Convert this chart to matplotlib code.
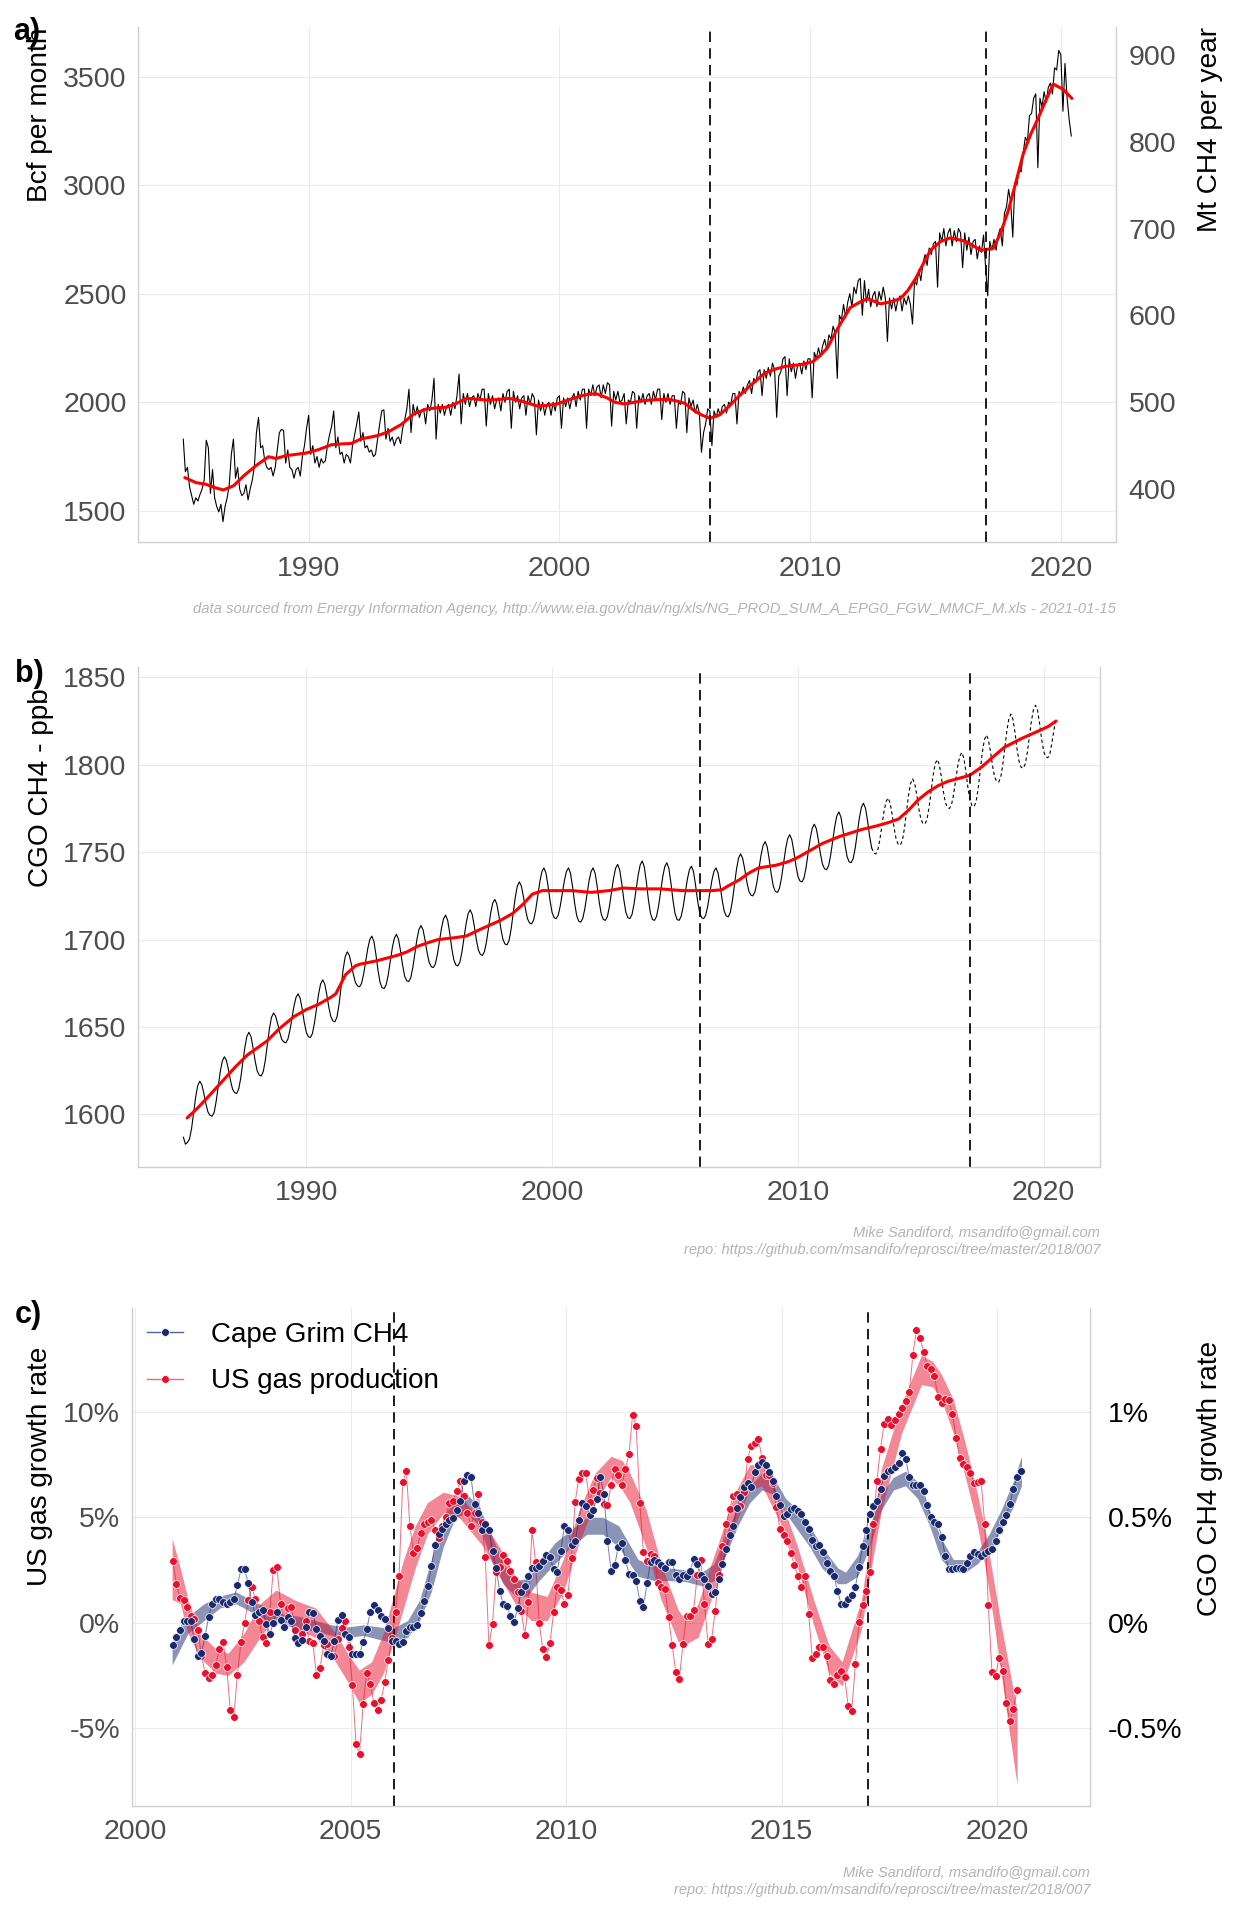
import numpy as np
import matplotlib
matplotlib.use("Agg")
import matplotlib.pyplot as plt
from matplotlib import font_manager as fm
from matplotlib.lines import Line2D

# ------------------------------------------------------------------ data
# a) US gas production, Bcf per month (Jan..Dec rows), from 1985-01
us_gas_1985_1989 = [
    1830, 1680, 1700, 1610, 1570, 1530, 1560, 1545, 1575, 1600, 1640, 1825,
    1790, 1580, 1690, 1560, 1520, 1495, 1530, 1450, 1520, 1560, 1620, 1760,
    1830, 1650, 1700, 1600, 1570, 1580, 1620, 1550, 1600, 1640, 1700, 1860,
    1930, 1790, 1800, 1730, 1700, 1690, 1700, 1660, 1700, 1780, 1860, 1875,
    1870, 1720, 1780, 1700, 1690, 1650, 1690, 1700, 1660, 1750, 1800, 1880,
]
us_gas_1990_1999 = [
    1940, 1760, 1800, 1720, 1750, 1700, 1740, 1720, 1730, 1800, 1850, 1890,
    1960, 1790, 1840, 1760, 1770, 1720, 1760, 1750, 1720, 1800, 1850, 1900,
    1955, 1820, 1860, 1790, 1800, 1770, 1780, 1750, 1760, 1830, 1900, 1960,
    1965, 1830, 1880, 1820, 1840, 1800, 1830, 1840, 1810, 1880, 1920, 1970,
    2060, 1860, 1990, 1940, 1980, 1930, 1960, 1970, 1900, 1990, 1960, 2010,
    2110, 1830, 1990, 1950, 1990, 1940, 1980, 1990, 1940, 2000, 1970, 2030,
    2130, 1900, 2040, 1990, 2040, 1980, 2020, 2030, 1980, 2040, 2010, 2060,
    2060, 1890, 2040, 1990, 2030, 1970, 2010, 2020, 1960, 2040, 2000, 2050,
    2060, 1880, 2050, 2000, 2030, 1970, 2020, 2030, 1940, 2030, 1990, 2040,
    2020, 1850, 2010, 1960, 2000, 1940, 1990, 2000, 1940, 2000, 1960, 2020,
]
us_gas_2000_2009 = [
    2030, 1880, 2020, 1980, 2020, 1970, 2020, 2040, 1980, 2050, 2010, 2060,
    2060, 1880, 2060, 2030, 2080, 2030, 2070, 2080, 2020, 2080, 2040, 2090,
    2080, 1890, 2050, 2010, 2050, 2000, 2010, 2040, 1900, 2010, 2000, 2050,
    2040, 1880, 2030, 2000, 2040, 1990, 2030, 2040, 1990, 2050, 2010, 2060,
    2060, 1920, 2040, 2000, 2040, 1990, 2030, 2030, 1880, 2000, 1990, 2050,
    2040, 1860, 2020, 1980, 2010, 1950, 1990, 1950, 1770, 1860, 1900, 1970,
    1960, 1800, 1960, 1930, 1970, 1940, 1980, 1990, 1950, 2000, 1990, 2040,
    2040, 1900, 2050, 2030, 2070, 2040, 2080, 2100, 2040, 2110, 2090, 2140,
    2150, 2030, 2150, 2110, 2160, 2120, 2180, 2150, 1930, 2120, 2140, 2200,
    2210, 2030, 2200, 2140, 2180, 2110, 2170, 2180, 2130, 2190, 2150, 2200,
]
us_gas_2010_2020 = [
    2200, 2020, 2230, 2200, 2250, 2210, 2260, 2290, 2240, 2310, 2290, 2350,
    2320, 2110, 2400, 2380, 2450, 2390, 2460, 2500, 2440, 2530, 2500, 2560,
    2570, 2400, 2560, 2460, 2520, 2440, 2490, 2510, 2440, 2510, 2470, 2530,
    2480, 2280, 2480, 2430, 2480, 2420, 2470, 2490, 2420, 2480, 2450, 2490,
    2450, 2360, 2560, 2540, 2610, 2560, 2640, 2680, 2630, 2710, 2680, 2730,
    2740, 2530, 2780, 2740, 2800, 2720, 2780, 2800, 2720, 2790, 2740, 2800,
    2780, 2620, 2780, 2700, 2760, 2680, 2740, 2750, 2660, 2720, 2690, 2770,
    2620, 2490, 2740, 2700, 2750, 2700, 2770, 2800, 2720, 2870, 2900, 2980,
    2920, 2760, 3010, 3000, 3080, 3060, 3150, 3220, 3200, 3320, 3330, 3400,
    3420, 3080, 3400, 3360, 3430, 3380, 3450, 3470, 3420, 3540, 3530, 3620,
    3600, 3340, 3560, 3400, 3300, 3226,
]
# a) smooth trend (red)
us_trend_year = [1985.06, 1985.5, 1985.9, 1986.3, 1986.6, 1987.0, 1987.4, 1987.9, 1988.4, 1988.7,
                 1989.1, 1989.5, 1989.9, 1990.4, 1990.9, 1991.3, 1991.7, 1992.1, 1992.5, 1992.8,
                 1993.2, 1993.7, 1994.2, 1994.7, 1995.1, 1995.5, 1995.9, 1996.3, 1996.7, 1997.1,
                 1997.5, 1998.0, 1998.5, 1999.1, 1999.5, 1999.9, 2000.5, 2000.9, 2001.2, 2001.5,
                 2001.9, 2002.2, 2002.6, 2003.0, 2003.4, 2003.9, 2004.4, 2004.7, 2005.0, 2005.4,
                 2005.7, 2006.0, 2006.4, 2006.8, 2007.2, 2007.7, 2008.2, 2008.6, 2009.0, 2009.6,
                 2010.1, 2010.4, 2010.7, 2011.1, 2011.6, 2012.0, 2012.3, 2012.8, 2013.2, 2013.6,
                 2013.9, 2014.2, 2014.5, 2014.8, 2015.2, 2015.6, 2016.2, 2016.8, 2017.3, 2017.6,
                 2017.9, 2018.2, 2018.5, 2018.8, 2019.1, 2019.4, 2019.7, 2020.1, 2020.44]
us_trend_bcf = [1653, 1630, 1622, 1605, 1596, 1615, 1660, 1708, 1749, 1741,
                1754, 1760, 1766, 1782, 1804, 1808, 1810, 1832, 1840, 1848,
                1865, 1898, 1947, 1969, 1974, 1977, 1995, 2018, 2014, 2010,
                2012, 2018, 2005, 1983, 1985, 1992, 2016, 2030, 2038, 2038,
                2020, 2000, 1992, 2000, 2008, 2012, 2012, 2005, 1995, 1959,
                1940, 1926, 1942, 1985, 2033, 2085, 2135, 2152, 2165, 2173,
                2186, 2215, 2252, 2340, 2436, 2462, 2477, 2453, 2462, 2477,
                2515, 2568, 2635, 2700, 2740, 2757, 2741, 2700, 2708, 2780,
                2881, 3010, 3144, 3235, 3309, 3390, 3465, 3440, 3399]

# b) Cape Grim CH4, ppb, monthly from 1985-01
cgo_1985_1989 = [
    1587, 1583, 1584, 1586, 1592, 1601, 1610, 1616.5, 1619, 1617, 1612, 1606,
    1601.4, 1599.5, 1599, 1601, 1607.5, 1616, 1624.5, 1630.5, 1633, 1631, 1625.6, 1619.4,
    1614.5, 1612.5, 1612, 1614.5, 1620.8, 1629.5, 1638.3, 1644.6, 1647, 1644.5, 1638.3, 1630.8,
    1625, 1622.5, 1622, 1624.5, 1631, 1640, 1649, 1655.5, 1658, 1656.3, 1652, 1647,
    1643, 1641.5, 1641, 1643, 1648, 1655, 1662, 1667, 1669, 1666.5, 1660.3, 1652.8,
]
cgo_1990_1999 = [
    1647, 1644.5, 1644, 1646.3, 1652.3, 1660.5, 1668.8, 1674.7, 1677, 1674.6, 1668.6, 1661.4,
    1655.9, 1653.5, 1653, 1655.8, 1663, 1673, 1683, 1690.2, 1693, 1691, 1686, 1680,
    1675.4, 1673.5, 1673, 1675, 1680.3, 1687.5, 1694.8, 1700, 1702, 1699, 1691.5, 1682.5,
    1675.6, 1672.5, 1672, 1674.2, 1679.8, 1687.5, 1695.3, 1700.8, 1703, 1700.3, 1693.6, 1685.5,
    1679.2, 1676.5, 1676, 1678.2, 1684, 1692, 1700, 1705.8, 1708, 1705.6, 1699.6, 1692.4,
    1686.9, 1684.5, 1684, 1686, 1691.5, 1699, 1706.5, 1711.9, 1714, 1711.1, 1703.9, 1695.2,
    1688.5, 1685.5, 1685, 1687.2, 1693, 1701, 1709, 1714.8, 1717, 1714.4, 1707.9, 1700.1,
    1694.1, 1691.5, 1691, 1693.2, 1699, 1707, 1715, 1720.8, 1723, 1720.4, 1713.9, 1706.1,
    1700.1, 1697.5, 1697, 1699.5, 1706, 1715, 1724, 1730.5, 1733, 1730.6, 1724.6, 1717.4,
    1711.9, 1709.5, 1709, 1711.2, 1717, 1725, 1733, 1738.8, 1741, 1738.1, 1730.9, 1722.2,
]
cgo_2000_2009 = [
    1715.5, 1712.5, 1712, 1714, 1719.3, 1726.5, 1733.8, 1739, 1741, 1737.9, 1730.2, 1720.9,
    1713.7, 1710.5, 1710, 1712.2, 1717.8, 1725.5, 1733.3, 1738.8, 1741, 1738, 1730.5, 1721.5,
    1714.6, 1711.5, 1711, 1713.2, 1719, 1727, 1735, 1740.8, 1743, 1739.9, 1732.2, 1722.9,
    1715.7, 1712.5, 1712, 1714.3, 1720.3, 1728.5, 1736.8, 1742.7, 1745, 1741.6, 1733.1, 1722.9,
    1715.1, 1711.5, 1711, 1713.3, 1719.3, 1727.5, 1735.8, 1741.7, 1744, 1740.7, 1732.5, 1722.6,
    1715, 1711.5, 1711, 1713.2, 1718.8, 1726.5, 1734.3, 1739.8, 1742, 1739, 1731.5, 1722.5,
    1715.6, 1712.5, 1712, 1714, 1719.3, 1726.5, 1733.8, 1739, 1741, 1738.2, 1731.2, 1722.8,
    1716.4, 1713.5, 1713, 1715.5, 1722, 1731, 1740, 1746.5, 1749, 1746.6, 1740.6, 1733.4,
    1727.9, 1725.5, 1725, 1727.2, 1732.8, 1740.5, 1748.3, 1753.8, 1756, 1753.1, 1745.9, 1737.2,
    1730.5, 1727.5, 1727, 1729.3, 1735.3, 1743.5, 1751.8, 1757.7, 1760, 1757.3, 1750.6, 1742.5,
]
cgo_2010_2020 = [
    1736.2, 1733.5, 1733, 1735.3, 1741.3, 1749.5, 1757.8, 1763.7, 1766, 1763.4, 1756.9, 1749.1,
    1743.1, 1740.5, 1740, 1742.3, 1748.3, 1756.5, 1764.8, 1770.7, 1773, 1770.1, 1762.9, 1754.2,
    1747.5, 1744.5, 1744, 1746.4, 1752.5, 1761, 1769.5, 1775.6, 1778, 1775.1, 1767.9, 1759.2,
    1752.5, 1749.5, 1749, 1751.2, 1757, 1765, 1773, 1778.8, 1781, 1778.3, 1771.6, 1763.5,
    1757.2, 1754.5, 1754, 1756.7, 1763.5, 1773, 1782.5, 1789.3, 1792, 1789.4, 1782.9, 1775.1,
    1769.1, 1766.5, 1766, 1768.6, 1775.3, 1784.5, 1793.8, 1800.4, 1803, 1800.2, 1793.2, 1784.8,
    1778.4, 1775.5, 1775, 1777.2, 1783, 1791, 1799, 1804.8, 1807, 1803.9, 1796.2, 1786.9,
    1779.7, 1776.5, 1776, 1778.9, 1786.3, 1796.5, 1806.8, 1814.1, 1817, 1814.3, 1807.6, 1799.5,
    1793.2, 1790.5, 1790, 1792.7, 1799.8, 1809.5, 1819.3, 1826.3, 1829, 1825.9, 1818.2, 1808.9,
    1801.7, 1798.5, 1798, 1800.5, 1807, 1816, 1825, 1831.5, 1834, 1831, 1823.5, 1814.5,
    1807.6, 1804.5, 1804, 1806.3, 1812.5, 1820, 1826,
]
cgo_trend_year = [1985.15, 1985.6, 1986.0, 1986.65, 1987.1, 1987.6, 1988.0, 1988.4, 1988.9, 1989.5,
                  1990.0, 1990.5, 1991.0, 1991.2, 1991.6, 1992.0, 1992.2, 1992.9, 1993.7, 1994.1,
                  1994.5, 1994.9, 1995.35, 1996.0, 1996.5, 1997.1, 1997.9, 1998.4, 1998.8, 1999.2,
                  1999.6, 1999.9, 2000.8, 2001.6, 2002.3, 2002.9, 2003.6, 2004.4, 2005.3, 2006.15,
                  2006.5, 2006.9, 2007.2, 2007.6, 2008.0, 2008.4, 2009.1, 2009.6, 2010.0, 2010.5,
                  2011.0, 2011.7, 2012.6, 2013.2, 2013.7, 2014.1, 2014.5, 2014.9, 2015.3, 2015.7,
                  2016.1, 2016.5, 2017.0, 2017.5, 2017.9, 2018.4, 2019.1, 2019.5, 2019.9, 2020.2,
                  2020.5]
cgo_trend_ppb = [1598, 1604, 1610, 1620, 1627, 1634, 1638, 1642, 1649, 1656,
                 1660, 1663, 1667, 1669, 1680, 1685, 1686, 1688, 1691, 1693,
                 1696, 1698, 1700, 1701, 1702, 1706, 1711, 1715, 1720, 1726,
                 1728, 1728, 1728, 1727, 1728, 1729.5, 1729, 1729, 1728, 1728,
                 1728, 1728.5, 1731, 1734, 1738, 1741, 1742.5, 1744.5, 1747, 1751,
                 1755, 1759, 1763, 1765, 1767, 1769, 1774, 1780, 1784.5, 1788,
                 1790.5, 1792, 1794, 1799, 1804, 1810, 1815, 1817.5, 1820, 1822,
                 1825]

# c) growth rates, monthly from 2000.875
us_growth_pct = [
    2.92, 1.85, 1.17, 1.07, 0.74, 0.33, 0.19, -0.35, -1.56, -2.39,
    -2.63, -2.47, -2.00, -1.23, -0.91, -2.08, -4.14, -4.47, -2.47, -0.91,
    -0.02, 1.07, 1.69, 1.11, 0.10, -0.68, -0.95, 0.53, 2.51, 2.63,
    0.88, -0.16, 0.68, 0.74, -0.33, -0.84, -0.53, 0.06, -0.88, -0.97,
    -2.49, -2.14, -1.07, -1.03, -1.56, -1.56, -0.78, -0.25, 0.10, -1.13,
    -2.96, -5.74, -6.23, -3.85, -2.37, -2.92, -3.83, -4.14, -3.66, -2.82,
    -1.75, -0.72, 0.50, 2.24, 6.67, 7.20, 4.61, 3.31, 3.56, 4.24,
    4.67, 4.77, 4.86, 4.38, 4.03, 4.61, 5.00, 5.70, 5.78, 6.23,
    6.71, 6.03, 5.19, 4.61, 5.19, 6.13, 4.77, 3.11, -1.07, -0.06,
    2.39, 2.63, 3.21, 2.92, 2.47, 2.08, 1.46, 0.56, -0.60, 0.97,
    4.42, 2.86, -0.02, -1.26, -1.61, -0.97, 0.49, 1.69, 1.56, 0.91,
    1.30, 3.09, 5.74, 6.83, 7.10, 7.10, 5.74, 6.32, 6.87, 6.17,
    5.64, 5.58, 6.52, 7.30, 7.00,
    6.56, 7.30, 8.02, 9.88, 9.34, 5.68, 3.37, 2.92, 3.25, 3.17,
    1.89, 1.69, 1.60, 0.25, -1.07, -2.33, -2.67, -1.03, 0.33, 0.33,
    0.62, 2.28, 2.96, 0.88, -1.03, -0.78, 0.58, 2.28, 3.64, 4.67,
    5.41, 6.03, 6.09, 5.54, 6.19, 7.78, 8.40, 8.52, 8.72, 7.84,
    7.00, 7.00, 6.65, 5.49, 4.47, 4.18, 3.89, 3.31, 2.76, 2.20,
    1.69, 2.20, 0.43, -1.69, -1.50, -1.13, -1.13, -1.56, -2.72, -2.92,
    -2.47, -2.28, -2.59, -3.95, -4.18, -1.95, 0.04, 0.84, 1.52, 2.43,
    4.71, 6.75, 8.27, 9.44, 9.67, 9.40, 9.63, 9.92, 10.21, 10.51,
    10.95, 12.70, 13.91, 13.52, 12.84, 12.20, 12.06, 11.71, 10.70, 10.41,
    10.64, 10.56, 9.92, 8.79, 7.84, 7.55, 7.39, 7.10, 6.65, 6.67,
    6.71, 4.67, 0.84, -2.33, -2.53, -1.69, -2.28, -3.79, -4.67, -4.09,
    -3.17,
]
cgo_growth_pct = [
    -0.107, -0.068, -0.035, 0.006, 0.006, 0.006, -0.078, -0.156, -0.142, -0.064,
    0.029, 0.091, 0.115, 0.111, 0.097, 0.091, 0.097, 0.111, 0.179, 0.253,
    0.253, 0.189, 0.097, 0.039, 0.053, 0.062, -0.006, -0.053, -0.002, 0.053,
    0.014, -0.019, 0.025, 0.010, -0.072, -0.097, -0.084, -0.019, 0.049, 0.045,
    -0.029, -0.064, -0.088, -0.150, -0.156, -0.088, 0.014, 0.039, -0.053, -0.068,
    -0.150, -0.150, -0.150, -0.091, -0.029, 0.049, 0.084, 0.062, 0.033, 0.018,
    -0.025, -0.088, -0.088, -0.103, -0.091, -0.039, -0.019, -0.019, -0.010, 0.045,
    0.103, 0.175, 0.267, 0.370, 0.422, 0.447, 0.467, 0.486, 0.496, 0.535,
    0.578, 0.675, 0.700, 0.691, 0.564, 0.519, 0.442, 0.467, 0.438, 0.340,
    0.259, 0.150, 0.088, 0.078, 0.033, 0.004, 0.068, 0.146, 0.175, 0.224,
    0.259, 0.259, 0.267, 0.292, 0.321, 0.311, 0.253, 0.243, 0.340, 0.457,
    0.438, 0.370, 0.389, 0.486, 0.570, 0.554, 0.512, 0.535, 0.589, 0.691,
    0.613, 0.389, 0.247, 0.272, 0.360,
    0.379, 0.296, 0.233, 0.228, 0.200, 0.101, 0.074, 0.189, 0.286, 0.298,
    0.286, 0.272, 0.259, 0.286, 0.286, 0.228, 0.208, 0.228, 0.220, 0.247,
    0.302, 0.278, 0.228, 0.208, 0.175, 0.136, 0.146, 0.208, 0.278, 0.350,
    0.418, 0.461, 0.545, 0.597, 0.646, 0.661, 0.642, 0.714, 0.749, 0.763,
    0.749, 0.714, 0.671, 0.603, 0.558, 0.506, 0.516, 0.539, 0.545, 0.531,
    0.516, 0.477, 0.447, 0.395, 0.364, 0.370, 0.337, 0.282, 0.247, 0.224,
    0.152, 0.091, 0.088, 0.111, 0.130, 0.169, 0.263, 0.364, 0.442, 0.516,
    0.554, 0.580, 0.636, 0.695, 0.720, 0.726, 0.739, 0.759, 0.807, 0.778,
    0.691, 0.652, 0.652, 0.652, 0.623, 0.558, 0.500, 0.477, 0.467, 0.409,
    0.317, 0.253, 0.253, 0.259, 0.259, 0.253, 0.282, 0.317, 0.337, 0.325,
    0.317, 0.331, 0.340, 0.350, 0.389, 0.438, 0.477, 0.512, 0.564, 0.636,
    0.691, 0.720,
]
# c) smoothing ribbons
us_band_year = [2000.86, 2001.05, 2001.23, 2001.5, 2001.88, 2002.16, 2002.53, 2002.9, 2003.27, 2003.73,
                2004.19, 2004.65, 2004.93, 2005.2, 2005.49, 2005.76, 2006.0, 2006.23, 2006.5, 2006.78,
                2007.15, 2007.52, 2008.08, 2008.45, 2008.82, 2009.19, 2009.56, 2009.93, 2010.3, 2010.67,
                2011.04, 2011.3, 2011.48, 2011.85, 2012.2, 2012.6, 2012.78, 2013.06, 2013.33, 2013.6,
                2013.9, 2014.26, 2014.54, 2015.0, 2015.37, 2015.74, 2016.1, 2016.4, 2016.85, 2017.04,
                2017.31, 2017.78, 2018.24, 2018.5, 2018.7, 2018.98, 2019.26, 2019.54, 2019.72, 2019.9,
                2020.09, 2020.28, 2020.46]
us_band_lo = [1.1, 0.9, -0.5, -1.65, -2.4, -2.5, -1.85, -0.7, 0.3, -0.3,
              -0.7, -1.85, -2.8, -3.8, -3.4, -2.4, -0.9, 0.7, 2.6, 4.2,
              5.2, 5.0, 3.6, 2.2, 0.9, 0.1, 0.1, 1.45, 3.8, 5.7,
              6.9, 6.3, 5.7, 3.6, 1.1, -0.9, -1.0, -0.7, 0.9, 2.6,
              4.6, 6.3, 6.5, 4.6, 2.6, -0.1, -2.4, -3.0, -0.3, 2.2,
              5.3, 9.0, 11.3, 11.2, 10.6, 9.0, 6.9, 4.6, 2.6, 0.3,
              -2.4, -5.2, -7.7]
us_band_hi = [4.0, 2.6, 1.1, -0.5, -1.25, -1.45, -0.5, 0.9, 1.55, 1.05,
              0.7, -0.5, -1.45, -2.25, -1.85, -0.5, 1.3, 3.0, 4.6, 5.7,
              6.2, 6.0, 4.8, 3.6, 2.2, 1.45, 1.25, 3.0, 5.35, 7.1,
              7.9, 7.7, 7.1, 5.4, 2.8, 0.6, 0.1, 0.9, 2.6, 4.2,
              6.1, 7.5, 7.5, 5.7, 3.6, 1.1, -1.1, -1.85, 1.1, 3.8,
              7.3, 10.4, 12.7, 12.4, 11.8, 10.6, 8.5, 6.1, 4.4, 2.2,
              -0.1, -2.2, -4.2]
cgo_band_year = [2000.86, 2001.23, 2001.6, 2001.97, 2002.34, 2002.71, 2003.08, 2003.45, 2003.82, 2004.19,
                 2004.56, 2004.93, 2005.3, 2005.67, 2005.95, 2006.32, 2006.6, 2006.87, 2007.15, 2007.43,
                 2007.7, 2007.98, 2008.26, 2008.54, 2008.82, 2009.1, 2009.37, 2009.74, 2010.11, 2010.48,
                 2010.85, 2011.22, 2011.67, 2012.04, 2012.4, 2012.78, 2013.15, 2013.43, 2013.7, 2013.98,
                 2014.26, 2014.54, 2014.81, 2015.09, 2015.37, 2015.65, 2015.93, 2016.3, 2016.48, 2016.76,
                 2017.04, 2017.31, 2017.59, 2017.87, 2018.15, 2018.43, 2018.7, 2018.98, 2019.26, 2019.54,
                 2019.81, 2020.09, 2020.37, 2020.56]
cgo_band_lo = [-0.200, -0.050, 0.010, 0.070, 0.090, 0.050, 0.010, -0.010, -0.030, -0.040,
               -0.060, -0.070, -0.060, -0.080, -0.090, -0.070, 0.010, 0.146, 0.360, 0.500,
               0.520, 0.460, 0.300, 0.185, 0.126, 0.126, 0.200, 0.280, 0.360, 0.420,
               0.420, 0.360, 0.220, 0.200, 0.200, 0.195, 0.175, 0.200, 0.320, 0.460,
               0.570, 0.630, 0.610, 0.520, 0.440, 0.360, 0.260, 0.185, 0.185, 0.220,
               0.360, 0.535, 0.630, 0.650, 0.590, 0.460, 0.300, 0.240, 0.240, 0.280,
               0.340, 0.440, 0.550, 0.650]
cgo_band_hi = [-0.090, 0.030, 0.090, 0.126, 0.146, 0.107, 0.070, 0.040, 0.030, 0.010,
               -0.010, -0.020, -0.010, -0.020, -0.030, 0.010, 0.107, 0.300, 0.500, 0.590,
               0.610, 0.550, 0.420, 0.280, 0.200, 0.210, 0.280, 0.380, 0.440, 0.500,
               0.500, 0.460, 0.300, 0.270, 0.260, 0.250, 0.240, 0.280, 0.420, 0.550,
               0.650, 0.710, 0.690, 0.590, 0.535, 0.460, 0.360, 0.260, 0.240, 0.320,
               0.460, 0.610, 0.690, 0.720, 0.670, 0.535, 0.400, 0.300, 0.300, 0.340,
               0.420, 0.535, 0.670, 0.790]

event_years = [2006, 2017]
years_ticks_ab = [1990, 2000, 2010, 2020]
years_ticks_c = [2000, 2005, 2010, 2015, 2020]
bcf_ticks = [1500, 2000, 2500, 3000, 3500]
mt_ticks = [400, 500, 600, 700, 800, 900]
ppb_ticks = [1600, 1650, 1700, 1750, 1800, 1850]
us_growth_ticks = [-5, 0, 5, 10]
us_growth_labels = ["-5%", "0%", "5%", "10%"]
cgo_growth_ticks = [-0.5, 0, 0.5, 1]
cgo_growth_labels = ["-0.5%", "0%", "0.5%", "1%"]

caption_a = ("data sourced from Energy Information Agency, "
             "http://www.eia.gov/dnav/ng/xls/NG_PROD_SUM_A_EPG0_FGW_MMCF_M.xls - 2021-01-15")
credit_1 = "Mike Sandiford, msandifo@gmail.com"
credit_2 = "repo: https://github.com/msandifo/reprosci/tree/master/2018/007"

# ------------------------------------------------------------------ style
names = {f.name for f in fm.fontManager.ttflist}
REG = "Liberation Sans" if "Liberation Sans" in names else "DejaVu Sans"
if "Liberation Sans Narrow" in names:
    NARROW, TITLE, LEG, PANEL = "Liberation Sans Narrow", 24, 23.5, 25
else:
    NARROW, TITLE, LEG, PANEL = REG, 20.2, 20, 22
plt.rcParams["font.family"] = [REG, "DejaVu Sans"]

W, H = 1248, 1920
TICK = 20.5
GRID = "#EBEBEB"
SPINE = "#D0D0D0"
TICKC = "#4D4D4D"
CAPC = "#B3B3B3"
RED = "#E8112D"
NAVY = "#1B2A6E"
DASH = (0, (6, 3.6))


def fx(px):
    return px / W


def fy(py):
    return 1 - py / H


def box(l, t, r, b):
    return [fx(l), fy(b), (r - l) / W, (b - t) / H]


def style_axis(ax):
    ax.set_facecolor("white")
    ax.spines["top"].set_visible(False)
    for s in ("left", "bottom", "right"):
        ax.spines[s].set_color(SPINE)
        ax.spines[s].set_linewidth(1.0)
    ax.grid(True, color=GRID, lw=0.8)
    ax.set_axisbelow(True)
    ax.tick_params(axis="both", length=0, labelsize=TICK, labelcolor=TICKC)
    ax.tick_params(axis="y", pad=8.5)
    ax.tick_params(axis="x", pad=9.5)


fig = plt.figure(figsize=(W / 100, H / 100), dpi=100)
fig.patch.set_facecolor("white")

# ------------------------------------------------------------------ panel a
v_a = np.array(us_gas_1985_1989 + us_gas_1990_1999 + us_gas_2000_2009 + us_gas_2010_2020)
t_a = 1985 + np.arange(len(v_a)) / 12
ax_a = fig.add_axes(box(138.4, 27, 1116, 542.5))
style_axis(ax_a)
ax_a.plot(t_a, v_a, color="black", lw=0.8)
ax_a.plot(us_trend_year, us_trend_bcf, color="red", lw=2.2, solid_capstyle="round")
for ev in event_years:
    ax_a.axvline(ev, color="black", lw=1.25, ls=DASH)
ax_a.set_xlim(1983.21, 2022.2)
ax_a.set_ylim(1354, 3728)
ax_a.set_xticks(years_ticks_ab)
ax_a.set_yticks(bcf_ticks)
sec_a = ax_a.secondary_yaxis("right", functions=(lambda b: b * 0.25, lambda m: m / 0.25))
sec_a.set_yticks(mt_ticks)
sec_a.tick_params(length=0, labelsize=TICK, labelcolor=TICKC, pad=9)
sec_a.spines["right"].set_visible(False)

# ------------------------------------------------------------------ panel b
v_b = np.array(cgo_1985_1989 + cgo_1990_1999 + cgo_2000_2009 + cgo_2010_2020)
t_b = 1985 + np.arange(len(v_b)) / 12
ax_b = fig.add_axes(box(138.4, 667.5, 1100, 1167.1))
style_axis(ax_b)
cut = t_b <= 2013.01
ax_b.plot(t_b[cut], v_b[cut], color="black", lw=0.8)
ax_b.plot(t_b[t_b >= 2012.99], v_b[t_b >= 2012.99], color="black", lw=0.8, ls=(0, (3, 2.5)))
ax_b.plot(cgo_trend_year, cgo_trend_ppb, color="red", lw=2.2, solid_capstyle="round")
for ev in event_years:
    ax_b.axvline(ev, color="black", lw=1.25, ls=DASH)
ax_b.set_xlim(1983.17, 2022.29)
ax_b.set_ylim(1569.9, 1855.6)
ax_b.set_xticks(years_ticks_ab)
ax_b.set_yticks(ppb_ticks)

# ------------------------------------------------------------------ panel c
SCALE = 10.0
t_red = 2000.875 + np.arange(len(us_growth_pct)) / 12
t_blue = 2000.875 + np.arange(len(cgo_growth_pct)) / 12
ax_c = fig.add_axes(box(132, 1308, 1090, 1806))
style_axis(ax_c)
ax_c.fill_between(cgo_band_year, np.array(cgo_band_lo) * SCALE, np.array(cgo_band_hi) * SCALE,
                  color=NAVY, alpha=0.5, lw=0)
ax_c.fill_between(us_band_year, us_band_lo, us_band_hi, color=RED, alpha=0.5, lw=0)
for ev in event_years:
    ax_c.axvline(ev, color="black", lw=1.25, ls=DASH, zorder=1.5)
ax_c.plot(t_red, us_growth_pct, color=RED, lw=0.7, alpha=0.6)
ax_c.plot(t_red, us_growth_pct, ls="none", marker="o", ms=5.6, mfc=RED, mec="white", mew=0.5)
ax_c.plot(t_blue, np.array(cgo_growth_pct) * SCALE, color=NAVY, lw=0.7, alpha=0.6)
ax_c.plot(t_blue, np.array(cgo_growth_pct) * SCALE, ls="none", marker="o", ms=5.6, mfc=NAVY,
          mec="white", mew=0.5)
ax_c.set_xlim(1999.93, 2022.15)
ax_c.set_ylim(-8.70, 14.94)
ax_c.set_xticks(years_ticks_c)
ax_c.set_yticks(us_growth_ticks)
ax_c.set_yticklabels(us_growth_labels)
sec_c = ax_c.secondary_yaxis("right", functions=(lambda v: v / SCALE, lambda v: v * SCALE))
sec_c.set_yticks(cgo_growth_ticks)
sec_c.set_yticklabels(cgo_growth_labels)
sec_c.tick_params(length=0, labelsize=TICK, labelcolor="black", pad=13)
sec_c.spines["right"].set_visible(False)

handles = [
    Line2D([0], [0], color="#5563A0", lw=1.0, marker="o", ms=5.6, mfc=NAVY, mec="white", mew=0.5),
    Line2D([0], [0], color="#F06878", lw=1.0, marker="o", ms=5.6, mfc=RED, mec="white", mew=0.5),
]
leg = ax_c.legend(handles, ["Cape Grim CH4", "US gas production"], loc="upper left",
                  bbox_to_anchor=(0.0157, 0.972), frameon=False, borderaxespad=0, borderpad=0,
                  handlelength=1.3, handletextpad=1.0, labelspacing=0.74,
                  prop={"family": NARROW, "size": LEG})

# ------------------------------------------------------------------ titles & labels
tkw = dict(rotation=90, ha="center", va="top", fontsize=TITLE, family=NARROW, color="black")
fig.text(fx(40), fy(27), "Bcf per month", **tkw)
fig.text(fx(1210), fy(27), "Mt CH4 per year", **tkw)
fig.text(fx(41), fy(688), "CGO CH4 - ppb", **tkw)
fig.text(fx(40), fy(1347), "US gas growth rate", **tkw)
fig.text(fx(1210), fy(1341), "CGO CH4 growth rate", **tkw)

pkw = dict(ha="left", va="baseline", fontsize=PANEL, family=NARROW, weight="bold", color="black")
fig.text(fx(13), fy(40), "a)", **pkw)
fig.text(fx(15), fy(682), "b)", **pkw)
fig.text(fx(15), fy(1323), "c)", **pkw)

ckw = dict(ha="right", va="center", fontsize=10.5, style="italic", color=CAPC)
fig.text(fx(1116), fy(609), caption_a, ha="right", va="center", fontsize=10.7,
         style="italic", color=CAPC)
fig.text(fx(1100), fy(1233), credit_1, **ckw)
fig.text(fx(1100), fy(1250), credit_2, **ckw)
fig.text(fx(1090), fy(1873), credit_1, **ckw)
fig.text(fx(1090), fy(1890), credit_2, **ckw)

fig.savefig("out.png", dpi=100, facecolor="white")
